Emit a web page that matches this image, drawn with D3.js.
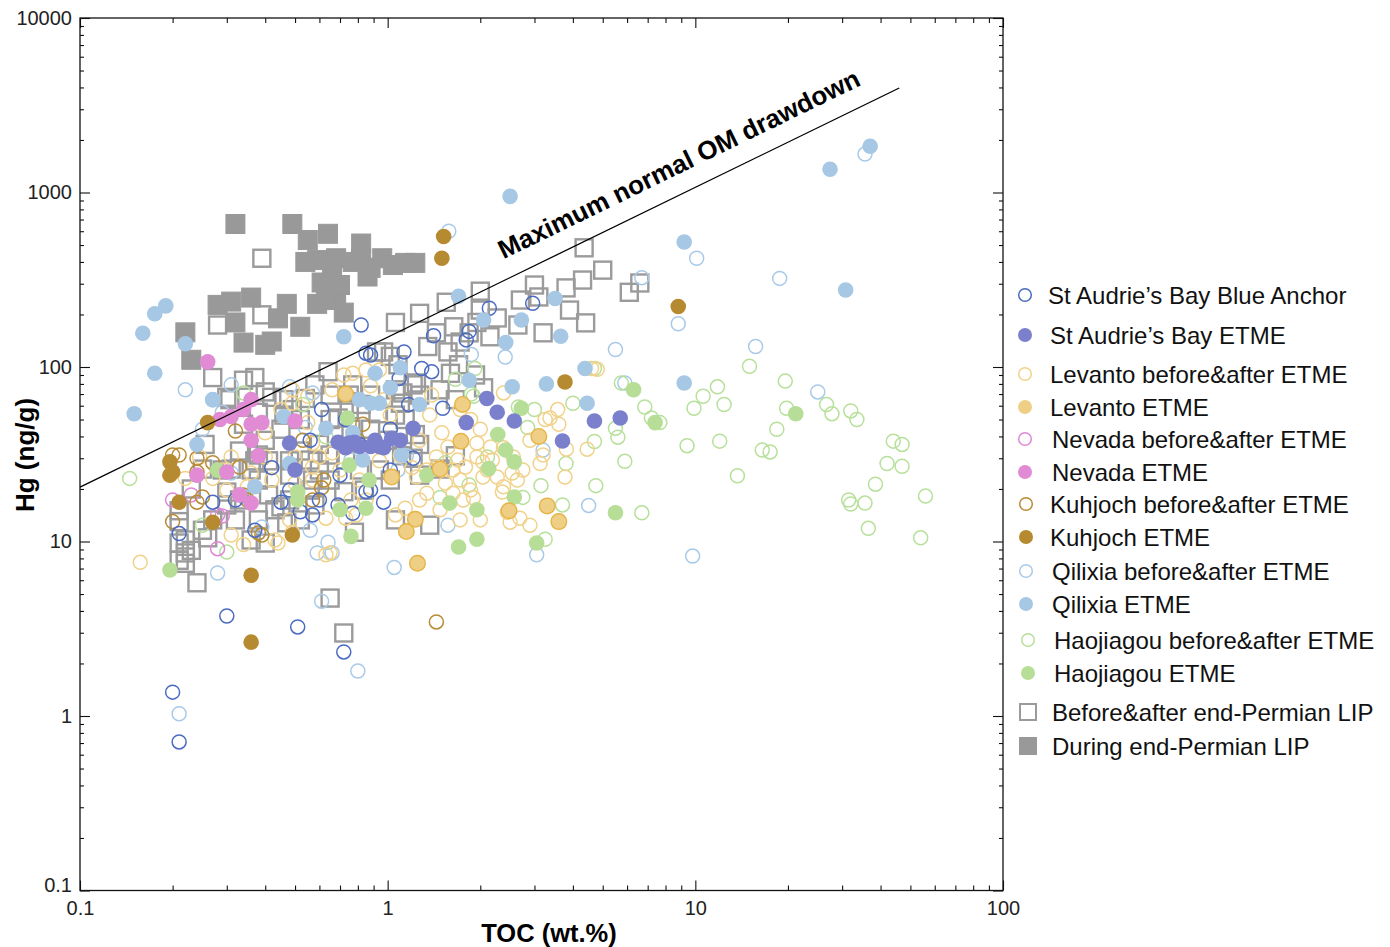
<!DOCTYPE html>
<html>
<head>
<meta charset="utf-8">
<script src="https://cdn.jsdelivr.net/npm/d3@7"></script>
<style>
  body { margin: 0; background: #fff; }
  text { font-family: "Helvetica Neue", Helvetica, "Liberation Sans", Arial, sans-serif; }
</style>
</head>
<body>
<svg id="chart" width="1390" height="947"></svg>
<script>
// ---- Data: [TOC (wt.%), Hg (ng/g)] ----
const lipDuring = [[0.32,660],[0.49,660],[0.55,534],[0.64,580],[0.59,410],[0.68,420],[0.66,330],[0.82,510],[0.82,420],[0.86,330],[0.28,227],[0.31,237],[0.36,250],[0.32,180],[0.34,138],[0.40,134],[0.42,140],[0.44,190],[0.47,230],[0.52,170],[0.59,230],[0.68,250],[0.72,205],[0.22,158],[0.23,110],[0.96,420],[1.04,384],[1.14,395],[1.23,395],[0.88,370],[0.77,400],[0.61,305],[0.70,295],[0.54,400],[0.63,242]];

const lipBeforeAfter = [[4.35,482],[5.0,359],[4.3,315],[6.1,268],[6.6,303],[3.0,295],[3.8,284],[3.1,252],[2.7,242],[2.0,272],[1.55,235],[1.27,203],[1.06,180],[3.9,212],[4.4,179],[2.27,191],[2.0,212],[2.65,174],[3.2,157],[1.95,180],[1.64,170],[1.44,157],[1.84,157],[2.15,149],[1.72,139],[1.35,131],[1.57,122],[0.97,122],[1.02,115],[1.6,92],[2.05,76],[1.24,81],[1.12,71],[0.92,122],[0.39,420],
  [0.28,174],[0.39,199],[0.27,87],[0.37,87],[0.40,72],[0.64,94],[0.30,67],[0.34,84],[0.54,66],[0.65,69],[0.77,79],[1.06,74],[1.10,62],[1.14,50],[1.23,41],[0.88,44],[0.76,44],[0.60,36],[0.52,33],[0.45,44],[0.40,38],[0.33,33],[0.31,26],[0.25,26],[0.23,20],[0.21,15],[0.27,13.3],[0.25,11.6],[0.22,10.2],[0.23,8.9],[0.21,7.8],[0.24,5.8],[0.26,10.5],[0.38,13.3],[0.43,15.2],[0.48,17.3],[0.56,19.7],[0.65,22.5],[0.60,25.7],[0.73,29.3],[0.81,25.7],[0.94,25.7],[1.02,22.5],[1.21,30],[1.27,24],[1.48,26],[1.66,31],[1.37,12.4],[0.78,11.3],[0.48,29],[0.38,22.5],[0.33,17.3],[0.30,16.2],[0.52,50],[0.46,53],[0.34,47],[0.41,29],[0.75,57],[0.65,4.74],[0.72,2.99],[0.30,19.2],[0.40,9.8],[0.47,12.8],[0.36,10.2],[0.52,13.3],[0.58,16.2],[0.36,25.7],[0.22,8.6],[0.22,7.5],[0.21,13],[0.21,9.8],[0.45,15.8],[0.57,22.5],[0.88,69],[0.46,65],[0.65,50],[0.37,29],[1.06,53],[1.27,69],[1.48,74],[1.66,65],[1.93,90],[1.70,103],
  [0.307,65],[0.38,55],[0.42,67],[0.49,57],[0.58,79],[0.69,51],[0.82,61],[0.93,54],[1.0,38],[1.11,31],[0.84,19.7],[0.72,19.3],[1.06,13.3],[0.41,18.5],[0.32,13.3],[0.29,25.7],[0.255,36],[0.48,24],[0.56,29.3],[0.38,31.3],[0.65,31.3],[1.27,36],[0.75,69],[1.08,103],[1.21,79]];

const sabBlueAnchor = [[0.82,174],[0.85,120],[2.14,217],[2.96,232],[1.41,151],[1.84,160],[1.80,143],[1.13,122],[1.29,98],[1.39,94],[1.09,86],[0.88,117],[1.51,58],[1.21,30],[1.02,25.7],[0.97,16.8],[0.88,19.7],[0.48,19.7],[0.45,16.8],[0.57,14.2],[0.85,19.3],[0.21,11.1],[0.30,3.74],[0.51,3.24],[0.72,2.33],[0.20,1.37],[0.21,0.71],[0.61,57],[0.73,50],[0.56,38],[0.42,26.5],[0.81,36],[0.70,24],[0.60,17.3],[0.69,16.2],[0.77,14.5],[0.27,16.8],[0.32,17.3],[0.37,11.6],[1.17,61],[1.02,44],[0.52,14.8]];

const sabETME = [[0.48,36.6],[0.50,25.7],[0.69,37],[0.75,36.6],[0.73,34.5],[0.81,35],[0.88,35],[0.94,35],[0.97,34.5],[1.03,39],[1.10,38],[1.21,44.5],[1.80,48],[2.10,66],[2.27,55],[2.58,49],[3.7,37.7],[4.7,49],[5.7,51],[0.78,37],[0.91,38]];

const levantoBeforeAfter = [[1.39,69],[1.37,53],[1.50,42],[1.57,34.8],[1.69,29.3],[1.63,25.7],[1.72,22.5],[1.86,19.7],[1.90,17.8],[1.79,26.7],[1.95,30.5],[2.04,28.5],[2.11,25.7],[2.19,29.3],[1.95,36.6],[2.16,34.8],[2.38,34.5],[2.56,30.5],[2.54,24.7],[2.64,22.5],[2.38,20.6],[2.27,23.4],[2.75,25.7],[3.13,28],[3.20,31.3],[3.37,51],[3.57,57],[3.81,33.8],[3.77,23.4],[4.45,33.8],[2.50,12.9],[2.90,12.4],[2.36,19.2],[2.45,14.7],[2.04,23.4],[1.86,50],[2.0,44],[1.72,57],[1.44,26.7],[1.63,18.9],[1.76,17.3],[1.34,25.7],[1.34,18.9],[1.02,53],[0.97,65],[1.24,23.4],[1.20,26.5],[1.54,21.6],[1.44,30.5],
  [0.45,57],[0.49,62],[0.55,48],[0.57,36.6],[0.60,30.5],[0.66,32.2],[0.40,42],[0.31,30.5],[0.29,25.7],[0.27,23],[0.22,23],[0.20,24.7],[0.35,20.6],[0.36,24.7],[0.30,19.7],[0.63,13.6],[0.79,14.2],[0.65,8.6],[0.49,11.3],[0.44,9.8],[0.157,7.6],[0.245,30.5],[0.50,21.6],[0.57,22.5],[0.40,30.5],[0.50,30.5],[0.70,25.7],[0.57,26.7],[2.38,71],[0.88,78],[0.72,90],[0.77,92],[0.85,96],[0.94,96],[0.66,74],[0.49,74],[0.55,68],[4.6,98],[4.8,97],[0.76,17.3],[0.85,17.3],[1.14,15.5],[1.06,14.2],[0.73,13.6],[0.42,22.5],[0.48,13.3],[2.69,13.6],[0.31,10.9],[0.34,9.6],[0.43,10.2],[0.63,8.4],[3.25,50],[1.27,38],[1.10,31],[0.94,29],[0.81,22.5],[1.48,15.2],[1.72,13.3],[2.0,13.3],[1.27,17.3],[2.9,38],[3.6,47]];

const levantoETME = [[1.75,61],[1.73,37.5],[1.48,26],[1.03,23.4],[3.10,40],[3.30,16],[3.60,13],[2.48,15],[1.23,13.4],[1.15,11.4],[1.25,7.5],[0.73,70]];

const nevadaBeforeAfter = [[0.20,17.3],[0.28,14.2],[0.28,9.1],[0.29,14],[0.23,18.5]];

const nevadaETME = [[0.26,107],[0.36,65],[0.285,50],[0.31,52],[0.36,47],[0.39,48],[0.36,38],[0.38,31],[0.50,49],[0.24,24],[0.30,25],[0.33,18.5],[0.36,16.6],[0.34,57]];

const kuhjochBeforeAfter = [[0.20,31.3],[0.20,25],[0.21,31.3],[0.24,25],[0.25,18],[0.24,16.8],[0.20,13],[0.32,43],[0.33,26.7],[0.35,17.3],[0.38,11.2],[0.62,22.5],[0.61,20.3],[0.57,17.3],[0.83,47],[0.24,30],[0.27,28.3],[0.34,18.5],[1.44,3.46],[0.39,10.9],[0.80,38],[0.53,38]];

const kuhjochETME = [[1.52,560],[1.50,420],[8.8,222],[3.77,82],[0.196,28.6],[0.20,25],[0.196,24],[0.21,16.8],[0.26,48],[0.27,12.9],[0.49,10.9],[0.36,6.4],[0.36,2.65]];

const qilixiaBeforeAfter = [[1.58,600],[6.7,325],[5.5,126],[2.41,114],[1.87,118],[5.9,81],[10.1,420],[18.8,322],[35.6,1660],[8.8,177],[15.7,131],[25.0,72],[9.8,8.25],[0.28,6.6],[1.05,7.1],[0.61,4.55],[0.80,1.81],[0.21,1.03],[0.22,74],[0.39,12.1],[0.56,11.6],[0.64,9.9],[0.59,8.6],[0.66,8.6],[0.34,18],[0.25,44],[0.31,24.7],[3.2,33.4],[1.57,12.4],[3.05,8.4],[4.5,16.1],[0.31,79],[0.48,77],[0.57,71],[1.15,31],[1.08,25.7],[0.76,29.3],[0.54,45],[0.27,65],[0.29,55]];

const qilixiaETME = [[0.19,224],[0.175,202],[0.16,156],[0.22,136],[0.175,92],[0.15,54],[0.27,65],[0.24,36],[0.46,52],[0.63,44.5],[0.77,42],[0.83,29.3],[0.48,28],[0.37,20.6],[0.81,65],[0.88,62],[0.72,149],[0.91,92],[1.70,254],[2.05,186],[2.72,186],[3.5,247],[2.42,138],[3.65,150],[1.10,99],[1.02,76],[1.84,84],[2.54,77],[3.28,80],[4.38,98],[0.94,62],[1.27,61],[1.11,31.3],[4.45,62],[9.2,520],[27.4,1360],[37,1840],[30.8,276],[9.2,81],[2.5,950]];

const haojiagouBeforeAfter = [[15,101],[19.6,83],[11.8,77],[10.6,68],[9.9,58],[12.4,61],[19.8,58],[26.7,61],[27.8,54],[32,56],[33.5,50],[18.4,44],[9.4,35.4],[12,37.6],[16.5,33.4],[17.5,32.6],[13.7,23.8],[44,37.6],[47,36],[42,28],[47,27],[38.5,21.3],[56,18.2],[31.5,17.3],[32,16.4],[35.6,16.6],[36.5,11.9],[54,10.5],[7.67,48],[4.0,62],[6.85,59],[5.5,44.5],[5.6,39.6],[4.7,37.4],[5.9,28.8],[3.8,28],[4.75,20.9],[3.15,20.9],[3.7,16.2],[6.7,14.6],[3.25,10.3],[2.75,17.9],[1.84,21.1],[1.54,28.3],[1.48,17.9],[2.11,30.5],[2.85,45],[1.90,68],[7.2,51],[0.145,23],[0.25,12.4],[0.30,8.7],[0.34,71],[0.63,39.8],[0.53,61],[1.92,98],[1.66,85],[4.7,98],[5.75,81],[1.87,70],[2.66,59],[3.0,57]];

const haojiagouETME = [[21.2,54],[6.3,74],[7.4,48],[2.72,58],[2.28,41],[2.42,33.4],[2.58,28.6],[2.13,26.2],[2.58,18],[1.59,16.6],[1.95,15.2],[3.05,9.8],[1.95,10.3],[1.70,9.3],[1.34,24],[5.5,14.6],[0.74,51],[0.28,25.7],[0.75,27.4],[0.87,22.5],[0.51,19.2],[0.51,17.3],[0.70,15.2],[0.85,15.5],[0.76,10.7],[0.196,6.87]];

// Reference line: maximum normal organic-matter drawdown
const drawdownTOC = [0.1, 46];
const drawdownHg = [20.5, 3970];

const xMajorTicks = [0.1, 1, 10, 100];
const yMajorTicks = [0.1, 1, 10, 100, 1000, 10000];

// ---- Layout ----
const svg = d3.select("#chart");
const pL = 80, pR = 1003, pT = 18, pB = 890.5;
const x = d3.scaleLog().domain([0.1, 100]).range([pL, pR]);
const y = d3.scaleLog().domain([0.1, 10000]).range([pB, pT]);

function minorTicks(lo, hi) {
  const out = [];
  for (let d = lo; d < hi * 0.99; d *= 10) for (let k = 2; k <= 9; k++) out.push(d * k);
  return out;
}
const xMinor = minorTicks(0.1, 100);
const yMinor = minorTicks(0.1, 10000);

const fmt = d => String(d);

// Axes (ticks point inward)
function axisGroup(gen, tx, ty) {
  const g = svg.append("g").attr("transform", `translate(${tx},${ty})`).call(gen);
  g.select(".domain").remove();
  g.selectAll(".tick line").attr("stroke", "#111").attr("stroke-width", 1.1);
  g.selectAll("text").attr("font-size", 20).attr("fill", "#222");
  return g;
}
axisGroup(d3.axisBottom(x).tickValues(xMajorTicks).tickSize(-10).tickPadding(10).tickFormat(fmt), 0, pB);
axisGroup(d3.axisBottom(x).tickValues(xMinor).tickSize(-5).tickFormat(""), 0, pB);
axisGroup(d3.axisTop(x).tickValues(xMajorTicks).tickSize(-10).tickFormat(""), 0, pT);
axisGroup(d3.axisTop(x).tickValues(xMinor).tickSize(-5).tickFormat(""), 0, pT);
const yAxisG = axisGroup(d3.axisLeft(y).tickValues(yMajorTicks).tickSize(-10).tickPadding(8).tickFormat(fmt), pL, 0);
// lowest label sits just above the corner
yAxisG.selectAll(".tick text").filter(d => d === 0.1).attr("dy", "0.05em");
axisGroup(d3.axisLeft(y).tickValues(yMinor).tickSize(-4).tickFormat(""), pL, 0);
axisGroup(d3.axisRight(y).tickValues(yMajorTicks).tickSize(-10).tickFormat(""), pR, 0);
axisGroup(d3.axisRight(y).tickValues(yMinor).tickSize(-4).tickFormat(""), pR, 0);

// Frame
svg.append("rect").attr("x", pL).attr("y", pT)
  .attr("width", pR - pL).attr("height", pB - pT)
  .attr("fill", "none").attr("stroke", "#111").attr("stroke-width", 1.3);

// Axis titles
svg.append("text").attr("x", 549).attr("y", 942).attr("text-anchor", "middle")
  .attr("font-size", 25.5).attr("font-weight", "bold").text("TOC (wt.%)");
svg.append("text").attr("transform", "translate(34,455) rotate(-90)").attr("text-anchor", "middle")
  .attr("font-size", 26).attr("font-weight", "bold").text("Hg (ng/g)");

// ---- Marks ----
const plot = svg.append("g");

function squares(data, filled) {
  const s = filled ? 19 : 17;
  plot.append("g").selectAll("rect").data(data).join("rect")
    .attr("x", d => x(d[0]) - s / 2).attr("y", d => y(d[1]) - s / 2)
    .attr("width", s).attr("height", s)
    .attr("fill", filled ? "#999" : "none")
    .attr("stroke", filled ? "#999" : "#9b9b9b")
    .attr("stroke-width", filled ? 1 : 2.4);
}
function openCircles(data, color) {
  plot.append("g").selectAll("circle").data(data).join("circle")
    .attr("cx", d => x(d[0])).attr("cy", d => y(d[1])).attr("r", 7)
    .attr("fill", "none").attr("stroke", color).attr("stroke-width", 1.5);
}
function filledCircles(data, color, edge) {
  plot.append("g").selectAll("circle").data(data).join("circle")
    .attr("cx", d => x(d[0])).attr("cy", d => y(d[1])).attr("r", 7.8)
    .attr("fill", color).attr("stroke", edge || "none").attr("stroke-width", edge ? 1.4 : 0);
}

const C = {
  sabOpen: "#4a6bc3", sabFill: "#7b80cd",
  levOpen: "#f1d28b", levFill: "#efcf86", levEdge: "#e6b445",
  nevOpen: "#df88d6", nevFill: "#e08bd3",
  kuhOpen: "#b98b33", kuhFill: "#b68a30",
  qilOpen: "#a9cae8", qilFill: "#a6c8e5",
  haoOpen: "#b7e09b", haoFill: "#b6de96"
};

squares(lipBeforeAfter, false);
squares(lipDuring, true);
openCircles(qilixiaBeforeAfter, C.qilOpen);
openCircles(haojiagouBeforeAfter, C.haoOpen);
openCircles(levantoBeforeAfter, C.levOpen);
openCircles(nevadaBeforeAfter, C.nevOpen);
openCircles(kuhjochBeforeAfter, C.kuhOpen);
openCircles(sabBlueAnchor, C.sabOpen);
filledCircles(haojiagouETME, C.haoFill);
filledCircles(levantoETME, C.levFill, C.levEdge);
filledCircles(qilixiaETME, C.qilFill);
filledCircles(nevadaETME, C.nevFill);
filledCircles(kuhjochETME, C.kuhFill);
filledCircles(sabETME, C.sabFill);

// Drawdown line and its label
const x0 = x(drawdownTOC[0]), y0 = y(drawdownHg[0]);
const x1 = x(drawdownTOC[1]), y1 = y(drawdownHg[1]);
svg.append("line").attr("x1", x0).attr("y1", y0).attr("x2", x1).attr("y2", y1)
  .attr("stroke", "#000").attr("stroke-width", 1.3);
const angle = Math.atan2(y1 - y0, x1 - x0) * 180 / Math.PI;
const labelPos = [9.1, 1310];
svg.append("text")
  .attr("transform", `translate(${x(labelPos[0])},${y(labelPos[1])}) rotate(${angle})`)
  .attr("text-anchor", "middle").attr("font-size", 26).attr("font-weight", "bold")
  .text("Maximum normal OM drawdown");

// ---- Legend ----
const legendItems = [
  { label: "St Audrie\u2019s Bay Blue Anchor", kind: "open", color: C.sabOpen, y: 295, cx: 1025, tx: 1048 },
  { label: "St Audrie\u2019s Bay ETME", kind: "fill", color: C.sabFill, y: 335, cx: 1025, tx: 1050 },
  { label: "Levanto before&after ETME", kind: "open", color: C.levOpen, y: 374, cx: 1025, tx: 1050 },
  { label: "Levanto ETME", kind: "fill", color: C.levFill, y: 407, cx: 1025, tx: 1050 },
  { label: "Nevada before&after ETME", kind: "open", color: C.nevOpen, y: 439, cx: 1025, tx: 1052 },
  { label: "Nevada ETME", kind: "fill", color: C.nevFill, y: 472, cx: 1025, tx: 1052 },
  { label: "Kuhjoch before&after ETME", kind: "open", color: C.kuhOpen, y: 504, cx: 1026, tx: 1050 },
  { label: "Kuhjoch ETME", kind: "fill", color: C.kuhFill, y: 537, cx: 1026, tx: 1050 },
  { label: "Qilixia before&after ETME", kind: "open", color: C.qilOpen, y: 571, cx: 1026, tx: 1052 },
  { label: "Qilixia ETME", kind: "fill", color: C.qilFill, y: 604, cx: 1026, tx: 1052 },
  { label: "Haojiagou before&after ETME", kind: "open", color: C.haoOpen, y: 640, cx: 1028, tx: 1054 },
  { label: "Haojiagou ETME", kind: "fill", color: C.haoFill, y: 673, cx: 1028, tx: 1054 },
  { label: "Before&after end-Permian LIP", kind: "sqOpen", color: "#9b9b9b", y: 712, cx: 1028, tx: 1052 },
  { label: "During end-Permian LIP", kind: "sqFill", color: "#999", y: 746, cx: 1028, tx: 1052 }
];
const lg = svg.append("g");
legendItems.forEach(it => {
  if (it.kind === "open") {
    lg.append("circle").attr("cx", it.cx).attr("cy", it.y).attr("r", 6.3)
      .attr("fill", "none").attr("stroke", it.color).attr("stroke-width", 1.5);
  } else if (it.kind === "fill") {
    lg.append("circle").attr("cx", it.cx).attr("cy", it.y).attr("r", 7)
      .attr("fill", it.color);
  } else if (it.kind === "sqOpen") {
    lg.append("rect").attr("x", it.cx - 8).attr("y", it.y - 8).attr("width", 16).attr("height", 16)
      .attr("fill", "none").attr("stroke", it.color).attr("stroke-width", 2);
  } else {
    lg.append("rect").attr("x", it.cx - 9).attr("y", it.y - 9).attr("width", 18).attr("height", 18)
      .attr("fill", it.color);
  }
  lg.append("text").attr("x", it.tx).attr("y", it.y).attr("dy", "0.36em")
    .attr("font-size", 24).attr("fill", "#111").text(it.label);
});
</script>
</body>
</html>
